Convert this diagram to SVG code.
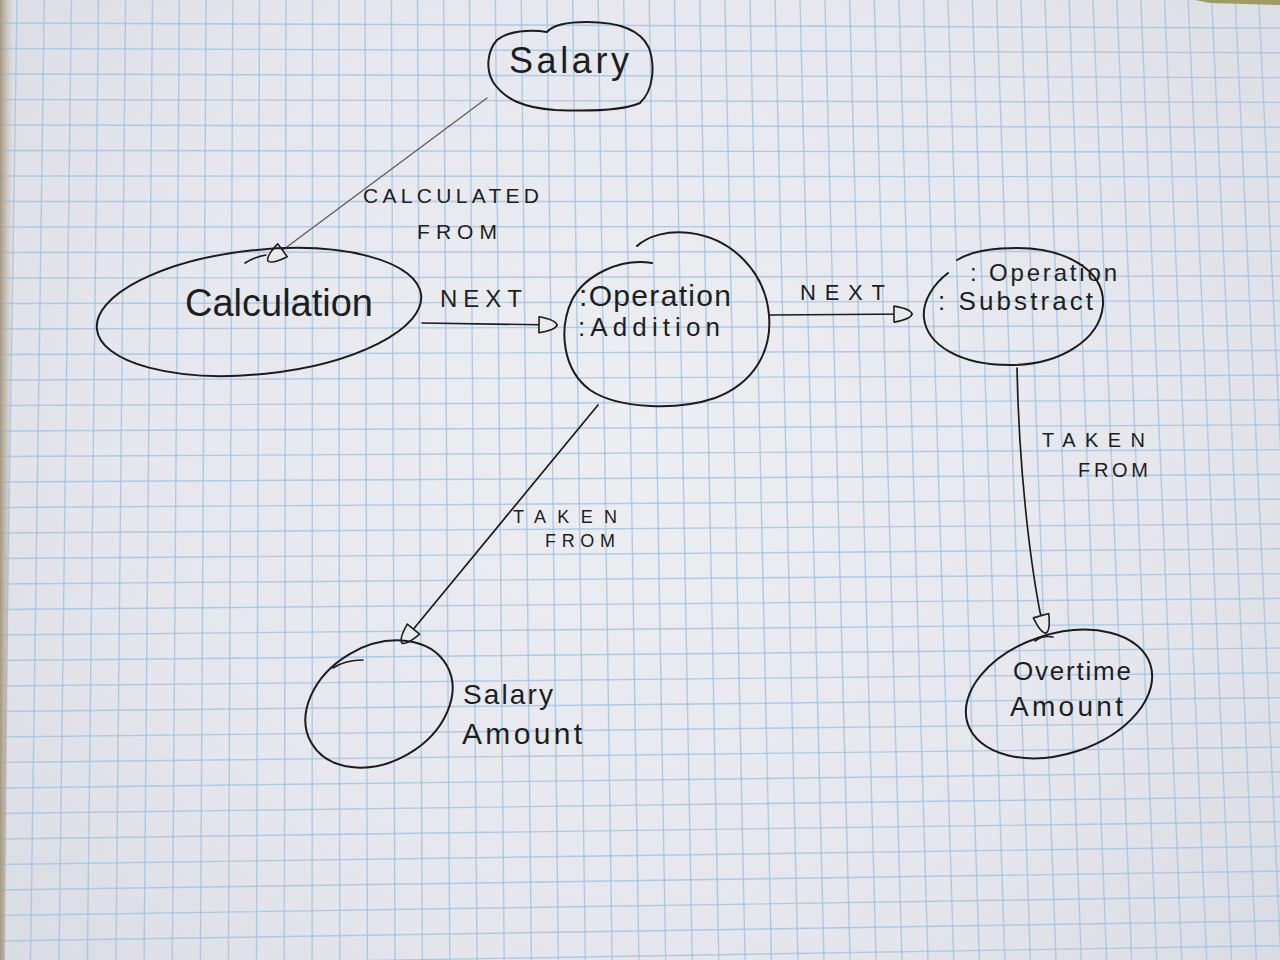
<svg xmlns="http://www.w3.org/2000/svg" width="1280" height="960" viewBox="0 0 1280 960">
  <defs>
    <radialGradient id="paper" cx="640" cy="430" r="950" gradientUnits="userSpaceOnUse">
      <stop offset="0" stop-color="#eceef2"/>
      <stop offset="0.55" stop-color="#e5e7ec"/>
      <stop offset="1" stop-color="#d3d6dd"/>
    </radialGradient>
    <linearGradient id="edge" x1="0" y1="0" x2="1" y2="0">
      <stop offset="0" stop-color="#a4987f"/>
      <stop offset="1" stop-color="#c8c3ba" stop-opacity="0"/>
    </linearGradient>
    <marker id="arrow" viewBox="0 0 24 20" markerWidth="24" markerHeight="20" refX="21" refY="10" orient="auto" markerUnits="userSpaceOnUse">
      <path d="M3,2 Q20,5 21,10 Q20,15 3,18 Z" fill="#e8eaee" stroke="#1e1e1e" stroke-width="1.6" stroke-linejoin="round"/>
    </marker>
    <style>
      .ink { fill: none; stroke: #1c1c1c; stroke-width: 2; stroke-linecap: round; stroke-linejoin: round; }
      .thin { fill: none; stroke: #1c1c1c; stroke-width: 1.6; stroke-linecap: round; }
      .conn { fill: none; stroke: #1c1c1c; stroke-width: 1.7; stroke-linecap: round; marker-end: url(#arrow); }
      .conn.gray { stroke: #5e5e5e; stroke-width: 1.3; }
      .grid { fill: none; stroke: #9fc2e5; stroke-width: 1.4; opacity: 0.8; }
      .t { font-family: "Liberation Sans", "DejaVu Sans", Arial, sans-serif; fill: #1e1e1e; }
      .lbl { font-family: "Liberation Sans", "DejaVu Sans", Arial, sans-serif; fill: #1e1e1e; }
    </style>
  </defs>

  <!-- paper -->
  <rect x="0" y="0" width="1280" height="960" fill="url(#paper)"/>
  <path class="grid" d="M17,0 L1.9,960 M44.3,0 L30.5,960 M71.4,0 L59,960 M98.5,0 L87.4,960 M125.6,0 L115.9,960 M152.5,0 L144.1,960 M179.4,0 L172.3,960 M206.1,0 L200.4,960 M232.8,0 L228.4,960 M259.5,0 L256.5,960 M286,0 L284.3,960 M312.5,0 L312.1,960 M338.8,0 L339.7,960 M365.1,0 L367.4,960 M391.4,0 L395,960 M417.5,0 L422.4,960 M443.6,0 L449.8,960 M469.5,0 L477,960 M495.4,0 L504.2,960 M521.3,0 L531.4,960 M547,0 L558.4,960 M572.7,0 L585.3,960 M598.2,0 L612.1,960 M623.7,0 L638.9,960 M649.2,0 L665.7,960 M674.5,0 L692.2,960 M699.8,0 L718.8,960 M724.9,0 L745.1,960 M750,0 L771.5,960 M775.1,0 L797.9,960 M800,0 L824,960 M824.9,0 L850.1,960 M849.6,0 L876.1,960 M874.3,0 L902,960 M899,0 L928,960 M923.5,0 L953.7,960 M948,0 L979.4,960 M972.3,0 L1004.9,960 M996.6,0 L1030.4,960 M1020.9,0 L1056,960 M1045,0 L1081.3,960 M1069.1,0 L1106.6,960 M1093,0 L1131.7,960 M1116.9,0 L1156.7,960 M1140.8,0 L1181.8,960 M1164.5,0 L1206.7,960 M1188.2,0 L1231.6,960 M1211.7,0 L1256.3,960 M1235.2,0 L1281,960 M1258.7,0 L1305.6,960 M1282,0 L1330,960"/>
  <path class="grid" d="M0,23 L1280,28 M0,48.5 L1280,52.8 M0,74 L1280,77.6 M0,99.5 L1280,102.4 M0,125 L1280,127.2 M0,150.5 L1280,152 M0,176 L1280,176.8 M0,201.5 L1280,201.6 M0,227 L1280,226.4 M0,252.5 L1280,251.2 M0,278 L1280,276 M0,303.5 L1280,300.8 M0,329 L1280,325.6 M0,354.5 L1280,350.4 M0,380 L1280,375.2 M0,405.5 L1280,400 M0,431 L1280,424.8 M0,456.5 L1280,449.6 M0,482 L1280,474.4 M0,507.5 L1280,499.2 M0,533 L1280,524 M0,558.5 L1280,548.8 M0,584 L1280,573.6 M0,609.5 L1280,598.4 M0,635 L1280,623.2 M0,660.5 L1280,648 M0,686 L1280,672.8 M0,711.5 L1280,697.6 M0,737 L1280,722.4 M0,762.5 L1280,747.2 M0,788 L1280,772 M0,813.5 L1280,796.8 M0,839 L1280,821.6 M0,864.5 L1280,846.4 M0,890 L1280,871.2 M0,915.5 L1280,896 M0,941 L1280,920.8 M0,966.5 L1280,945.6"/>
  <polygon points="0,0 14,0 5,960 0,960" fill="url(#edge)"/>
  <polygon points="1195,0 1280,0 1280,5 1210,3" fill="#8e8b40" opacity="0.8"/>

  <!-- connectors -->
  <g id="connectors">
    <path id="edge-salary-calculation" class="conn gray" d="M487,98 L268,261"/>
    <path id="edge-calculation-addition" class="conn" d="M422,323 L557,325"/>
    <path id="edge-addition-subtract" class="conn" d="M770,315 L912,314"/>
    <path id="edge-addition-salaryamount" class="conn" d="M598,405 L402,643"/>
    <path id="edge-subtract-overtime" class="conn" d="M1017,368 C1019,470 1030,560 1040,612 L1046,633"/>
    <text class="lbl" x="363" y="203" font-size="21" textLength="176">CALCULATED</text>
    <text class="lbl" x="417" y="239" font-size="21" textLength="80">FROM</text>
    <text class="lbl" x="440" y="307" font-size="24" textLength="82">NEXT</text>
    <text class="lbl" x="800" y="300" font-size="22" textLength="85">NEXT</text>
    <text class="lbl" x="513" y="523" font-size="18" textLength="104">TAKEN</text>
    <text class="lbl" x="545" y="547" font-size="18" textLength="70">FROM</text>
    <text class="lbl" x="1042" y="447" font-size="20" textLength="103">TAKEN</text>
    <text class="lbl" x="1078" y="477" font-size="20" textLength="70">FROM</text>
  </g>

  <!-- nodes -->
  <g id="node-salary">
    <path class="ink" d="M547,32 C552,26 565,22 587,22 C615,22 640,28 649,48 C655,65 654,90 640,103 C620,112 580,111 555,110 C525,108 505,100 493,82 C485,68 488,50 497,40 C508,31 530,29 547,32 Z"/>
    <text class="t" x="509" y="73" font-size="36" textLength="120">Salary</text>
  </g>

  <g id="node-calculation">
    <ellipse class="ink" cx="259" cy="312" rx="163" ry="62" transform="rotate(-6 259 312)"/>
    <path class="thin" d="M245,263 Q254,257 266,255"/>
    <text class="t" x="185" y="316" font-size="38" textLength="188">Calculation</text>
  </g>

  <g id="node-addition">
    <path class="ink" d="M652,263 C620,258 585,275 572,300 C558,330 563,370 590,390 C620,410 680,410 715,398 C755,383 772,350 769,315 C765,270 730,238 690,233 C668,230 648,236 637,246"/>
    <text class="t" x="579" y="306" font-size="30" textLength="152">:Operation</text>
    <text class="t" x="578" y="336" font-size="26" textLength="142">:Addition</text>
  </g>

  <g id="node-subtract">
    <path class="ink" d="M948,273 C935,283 922,300 924,318 C927,345 960,365 1010,365 C1060,365 1100,340 1103,305 C1105,270 1065,248 1017,248 C990,248 970,252 957,260"/>
    <text class="t" x="970" y="281" font-size="24" textLength="147">: Operation</text>
    <text class="t" x="938" y="310" font-size="26" textLength="155">: Substract</text>
  </g>

  <g id="node-salary-amount">
    <ellipse class="ink" cx="379" cy="704" rx="78" ry="58" transform="rotate(-30 379 704)"/>
    <path class="thin" d="M333,668 Q345,660 363,660"/>
    <text class="t" x="463" y="704" font-size="28" textLength="90">Salary</text>
    <text class="t" x="462" y="744" font-size="30" textLength="120">Amount</text>
  </g>

  <g id="node-overtime-amount">
    <ellipse class="ink" cx="1059" cy="694" rx="96" ry="60" transform="rotate(-18 1059 694)"/>
    <path class="thin" d="M1035,641 Q1043,635 1053,637"/>
    <text class="t" x="1013" y="680" font-size="26" textLength="118">Overtime</text>
    <text class="t" x="1010" y="716" font-size="28" textLength="113">Amount</text>
  </g>
</svg>
